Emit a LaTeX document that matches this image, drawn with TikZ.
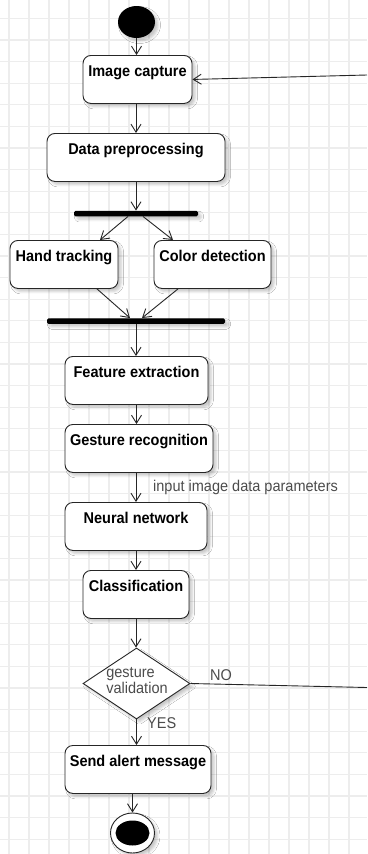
\documentclass[tikz,border=0pt]{standalone}
\usepackage{fontspec}
\setmainfont{Liberation Sans}[FakeStretch=0.93]
\usetikzlibrary{arrows.meta,shapes.geometric,shadows.blur,calc}

\begin{document}
\begin{tikzpicture}[x=1pt,y=-1pt,
  font=\fontsize{15.6}{16}\selectfont,
  ink/.style={draw=black!85, line width=0.9pt},
  soft/.style={blur shadow={shadow xshift=3pt, shadow yshift=-3pt, shadow blur radius=2.5pt, shadow opacity=22}},
  act/.style={ink, soft, fill=white, rounded corners=8pt, inner sep=0pt,
    minimum height=48pt, text height=21pt, text depth=27pt,
    font=\fontsize{15.6}{16}\selectfont\bfseries, anchor=north},
  syncbar/.style={fill=black, rounded corners=1.5pt, minimum height=5.5pt, inner sep=0pt, soft},
  flow/.style={ink, -{Straight Barb[length=8pt,width=10pt]}},
  tag/.style={text=black!70, inner sep=0pt},
  gridline/.style={draw=black!7, line width=1.2pt}]

\useasboundingbox (0,0) rectangle (367,854);
\fill[white] (0,0) rectangle (367,854);

% background grid
\foreach \gx in {9,29,...,349} \draw[gridline] (\gx,0) -- (\gx,854);
\foreach \k in {0,...,38} \draw[gridline] (0,{18.3+21.6*\k}) -- (367,{18.3+21.6*\k});

% activity nodes
\node[ellipse, fill=black, minimum width=37pt, minimum height=32pt, inner sep=0pt, soft] (start) at (136.5,22) {};
\node[act, minimum width=109pt] (cap) at (137.5,55) {Image capture};
\node[act, minimum width=178pt] (pre) at (136,133) {Data preprocessing};
\node[syncbar, minimum width=124pt] (fork) at (136,213.5) {};
\node[act, minimum width=108pt] (hand) at (64,240) {Hand tracking};
\node[act, minimum width=117pt] (color) at (212.5,240) {Color detection};
\node[syncbar, minimum width=178pt] (join) at (136,321) {};
\node[act, minimum width=143pt] (feat) at (136.5,356) {Feature extraction};
\node[act, minimum width=148pt] (gest) at (139,424) {Gesture recognition};
\node[act, minimum width=142pt] (nn) at (136,502) {Neural network};
\node[act, minimum width=106pt] (cls) at (136,570) {Classification};
\node[diamond, ink, soft, fill=white, minimum width=107pt, minimum height=71pt, inner sep=0pt] (dec) at (136.5,683.5) {};
\node[tag, align=left, font=\fontsize{15.6}{16}\selectfont] (dectext) at (137,681) {gesture\\validation};
\node[act, minimum width=146pt] (send) at (138,745) {Send alert message};
\node[ellipse, ink, fill=white, soft, minimum width=44pt, minimum height=40pt, inner sep=0pt] (end) at (132.5,833) {};
\node[ellipse, fill=black, minimum width=34pt, minimum height=25pt, inner sep=0pt] (endin) at (end) {};

% loose ends of the loop back to image capture
\coordinate (loopin) at (367,75);
\coordinate (loopout) at (367,687.5);

% control flow
\draw[flow] (start.south) -- (start.south |- cap.north);
\draw[flow] (pre.north |- cap.south) -- (pre.north);
\draw[flow] (pre.south) -- (pre.south |- fork.north);
\draw[flow] ([xshift=-8pt]fork.south) -- ([xshift=36pt]hand.north);
\draw[flow] ([xshift=7pt]fork.south) -- ([xshift=-39.5pt]color.north);
\draw[flow] ([xshift=33pt]hand.south) -- ([xshift=-6pt]join.north);
\draw[flow] ([xshift=-34.5pt]color.south) -- ([xshift=6pt]join.north);
\draw[flow] (join.south) -- (join.south |- feat.north);
\draw[flow] (feat.south) -- (feat.south |- gest.north);
\draw[flow] (nn.north |- gest.south) -- (nn.north);
\draw[flow] (nn.south) -- (nn.south |- cls.north);
\draw[flow] (cls.south) -- (cls.south |- dec.north);
\draw[flow] (dec.south) -- (dec.south |- send.north);
\draw[flow] (send.south -| end.north) -- (end.north);
\draw[flow] (loopin) -- (cap.east);
\draw[ink] (dec.east) -- (loopout);

% edge labels
\node[tag, anchor=base west] (param) at (153,491) {input image data parameters};
\node[tag, anchor=base west] (no) at (210,680) {NO};
\node[tag, anchor=base west] (yes) at (147,728) {YES};
\end{tikzpicture}
\end{document}
